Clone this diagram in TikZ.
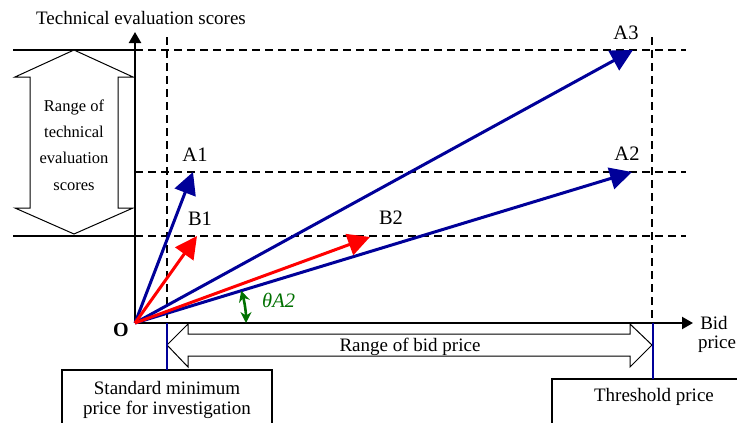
\documentclass[tikz,border=0pt]{standalone}
\usepackage{fontspec}
\setmainfont{Liberation Serif}
\usetikzlibrary{arrows.meta}
\definecolor{vblue}{RGB}{0,0,153}
\definecolor{vred}{RGB}{255,0,0}
\definecolor{vgreen}{RGB}{0,112,0}
\tikzset{
  lbl/.style={inner sep=0pt, font=\fontsize{19}{23}\selectfont},
  biglbl/.style={inner sep=0pt, font=\fontsize{20.5}{24}\selectfont},
  axisline/.style={line width=2.2pt, -{Triangle[length=11pt,width=12pt]}},
  solidh/.style={line width=2.2pt},
  dashh/.style={line width=2.2pt, dash pattern=on 8pt off 5pt},
  vecA/.style={draw=vblue, line width=3pt, -{Triangle[length=22pt,width=22pt]}},
  vecB/.style={draw=vred, line width=3pt, -{Triangle[length=22pt,width=22pt]}},
  hollow/.style={draw=black, line width=1pt, fill=white},
  boxline/.style={draw=black, line width=1.2pt},
  bluev/.style={draw=vblue, line width=2pt},
}
\begin{document}
\begin{tikzpicture}[x=1pt,y=-1pt]
\useasboundingbox (0,0) rectangle (737,423);
% coordinates
\coordinate (O) at (135,323);
\coordinate (ytip) at (135,32);
\coordinate (xtip) at (693,323);
\coordinate (tA1) at (193,172);
\coordinate (tB1) at (197,236);
\coordinate (tB2) at (370,237);
\coordinate (tA2) at (632,172);
\coordinate (tA3) at (633,50);
% horizontal solid + dashed lines
\coordinate (h1l) at (13,50);   \coordinate (h1m) at (135,50);  \coordinate (h1r) at (686,50);
\coordinate (h2m) at (135,172); \coordinate (h2r) at (686,172);
\coordinate (h3l) at (13,236);  \coordinate (h3m) at (135,236); \coordinate (h3r) at (686,236);
\draw[solidh] (h1l) -- (h1m);
\draw[solidh] (h3l) -- (h3m);
\draw[dashh] (h1m) -- (h1r);
\draw[dashh] (h2m) -- (h2r);
\draw[dashh] (h3m) -- (h3r);
% vertical dashed
\coordinate (v1t) at (167,37); \coordinate (v1b) at (167,323);
\coordinate (v2t) at (652,37); \coordinate (v2b) at (652,323);
\draw[dashh] (v1t) -- (v1b);
\draw[dashh] (v2t) -- (v2b);
% axes
\draw[axisline] (O) -- (ytip);
\draw[axisline] (O) -- (xtip);
% vertical double arrow (range of scores)
\draw[hollow] (74,50) -- (133,77) -- (118,77) -- (118,208) -- (133,208) -- (74,234)
  -- (15,208) -- (30,208) -- (30,77) -- (15,77) -- cycle;
\node[inner sep=0pt, align=center, font=\fontsize{16.5}{26.3}\selectfont] (rts) at (74,145)
  {Range of\\technical\\evaluation\\scores};
% horizontal double arrow (range of bid price)
\draw[hollow] (167,345) -- (188,324) -- (188,334) -- (630,334) -- (630,324) -- (652,345)
  -- (630,367) -- (630,356) -- (188,356) -- (188,367) -- cycle;
\node[lbl] (rbp) at (410,347) {Range of bid price};
% boxes
\draw[boxline, fill=white] (62,370) rectangle (272,440);
\draw[boxline, fill=white] (552,379) rectangle (750,440);
\node[lbl] (smp1) at (167,388) {Standard minimum};
\node[lbl] (smp2) at (167,410) {price for investigation};
\node[lbl] (thp) at (654,397) {Threshold price};
% blue vertical markers
\coordinate (b1t) at (167,323); \coordinate (b1b) at (167,370);
\coordinate (b2t) at (653,323); \coordinate (b2b) at (653,379);
\draw[bluev] (b1t) -- (b1b);
\draw[bluev] (b2t) -- (b2b);
% vectors
\draw[vecA] (O) -- (tA3);
\draw[vecA] (O) -- (tA2);
\draw[vecA] (O) -- (tA1);
\draw[vecB] (O) -- (tB1);
\draw[vecB] (O) -- (tB2);
% angle
\draw[draw=vgreen, line width=2.6pt, {Stealth[length=11pt,width=11pt]}-{Stealth[length=11pt,width=11pt]}]
  (O) ++(0:111) arc[start angle=0, end angle=-16.9, radius=111];
\node[biglbl, anchor=west, text=vgreen] (th) at (262,300) {\textit{θA2}};
% labels
\node[lbl] (ylab) at (141,18) {Technical evaluation scores};
\node[lbl] (bid1) at (714,323) {Bid};
\node[lbl] (bid2) at (717,344) {price};
\node[inner sep=0pt, font=\fontsize{20}{24}\selectfont\bfseries] (olab) at (121,330) {O};
\node[biglbl] (lA1) at (195,155) {A1};
\node[biglbl] (lB1) at (200,219) {B1};
\node[biglbl] (lB2) at (391,218) {B2};
\node[biglbl] (lA2) at (627,154) {A2};
\node[biglbl] (lA3) at (626,33) {A3};
\end{tikzpicture}
\end{document}
